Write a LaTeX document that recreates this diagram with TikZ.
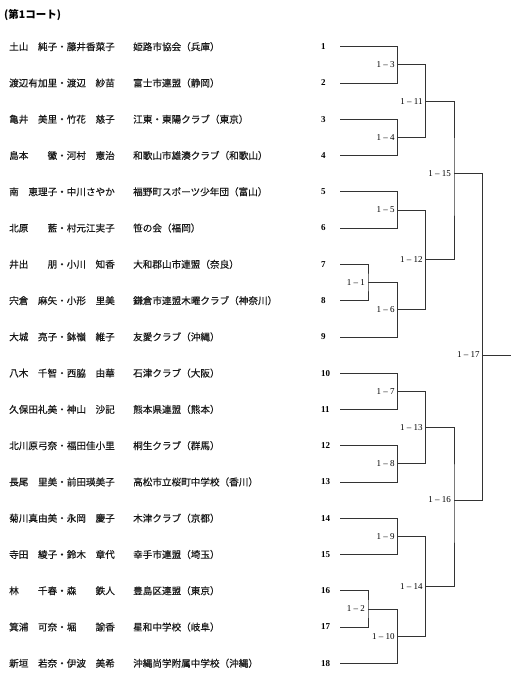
\documentclass[tikz,border=0pt]{standalone}
\usepackage{fontspec}
\setmainfont{Liberation Serif}
\newfontfamily\cjk{Noto Sans CJK JP}
\newfontfamily\cjkheavy[AutoFakeBold=0.5]{Noto Sans CJK JP}
\begin{document}
\begin{tikzpicture}[x=1pt,y=-1pt,
  bline/.style={line width=0.65pt, draw=black!80},
  entrytext/.style={anchor=west, inner sep=0pt, text=black!90, font=\cjkheavy\bfseries\fontsize{9.6}{11}\selectfont},
  numtext/.style={anchor=west, inner sep=0pt, font=\bfseries\fontsize{9}{10}\selectfont},
  labtext/.style={anchor=east, inner sep=0pt, font=\fontsize{9}{10}\selectfont},
]
\useasboundingbox (0,0) rectangle (517,675);
\node[anchor=west, inner sep=0pt, font=\cjk\bfseries\fontsize{10.5}{12}\selectfont] (title) at (4,15) {(第1コート)};
\foreach \i/\p/\t in {
 1/土山　純子・藤井香菜子/姫路市協会（兵庫）,
 2/渡辺有加里・渡辺　紗苗/富士市連盟（静岡）,
 3/亀井　美里・竹花　慈子/江東・東陽クラブ（東京）,
 4/島本　　徽・河村　憲治/和歌山市雄湊クラブ（和歌山）,
 5/南　恵理子・中川さやか/福野町スポーツ少年団（富山）,
 6/北原　　藍・村元江実子/笹の会（福岡）,
 7/井出　　朋・小川　知香/大和郡山市連盟（奈良）,
 8/宍倉　麻矢・小形　里美/鎌倉市連盟木曜クラブ（神奈川）,
 9/大城　亮子・鉢嶺　維子/友愛クラブ（沖縄）,
 10/八木　千智・西脇　由華/石津クラブ（大阪）,
 11/久保田礼美・神山　沙記/熊本県連盟（熊本）,
 12/北川原弓奈・福田佳小里/桐生クラブ（群馬）,
 13/長尾　里美・前田瑛美子/高松市立桜町中学校（香川）,
 14/菊川真由美・永岡　慶子/木津クラブ（京都）,
 15/寺田　綾子・鈴木　章代/幸手市連盟（埼玉）,
 16/林　　千春・森　　鉄人/豊島区連盟（東京）,
 17/箕浦　可奈・堀　　諭香/星和中学校（岐阜）,
 18/新垣　若奈・伊波　美希/沖縄尚学附属中学校（沖縄）}{
  \pgfmathsetmacro\yy{46.7+(\i-1)*36.27}
  \node[entrytext] (p\i) at (9,\yy) {\p};
  \node[entrytext] (t\i) at (133,\yy) {\t};
  \node[numtext] (n\i) at (321,\yy) {\i};
  \coordinate (e\i) at (340,\yy);
}
% match points
\coordinate (m3) at (397.7,64.8);
\coordinate (m4) at (397.7,137.4);
\coordinate (m11) at (425.7,101.1);
\coordinate (m5) at (397.7,209.9);
\coordinate (m1) at (368,282.45);
\coordinate (m6) at (397.7,309.7);
\coordinate (m12) at (425.7,259.8);
\coordinate (m15) at (454,173.3);
\coordinate (m7) at (397.7,391.25);
\coordinate (m8) at (397.7,463.8);
\coordinate (m13) at (425.7,427.5);
\coordinate (m9) at (397.7,536.35);
\coordinate (m2) at (368,608.85);
\coordinate (m10) at (397.7,636.1);
\coordinate (m14) at (425.7,586.2);
\coordinate (m16) at (454,500);
\coordinate (m17) at (482.7,355);
\coordinate (out) at (510.7,355);
% brackets
\draw[bline] (e1) -| (m3) |- (e2);
\draw[bline] (e3) -| (m4) |- (e4);
\draw[bline] (m3) -| (m11) |- (m4);
\draw[bline] (e5) -| (m5) |- (e6);
\draw[bline] (e7) -| (m1) |- (e8);
\draw[bline] (m1) -| (m6) |- (e9);
\draw[bline] (m5) -| (m12) |- (m6);
\draw[bline] (m11) -| (m15) |- (m12);
\draw[bline] (e10) -| (m7) |- (e11);
\draw[bline] (e12) -| (m8) |- (e13);
\draw[bline] (m7) -| (m13) |- (m8);
\draw[bline] (e14) -| (m9) |- (e15);
\draw[bline] (e16) -| (m2) |- (e17);
\draw[bline] (m2) -| (m10) |- (e18);
\draw[bline] (m9) -| (m14) |- (m10);
\draw[bline] (m13) -| (m16) |- (m14);
\draw[bline] (m15) -| (m17) |- (m16);
\draw[bline] (m17) -- (out);
% labels
\foreach \m/\txt in {m1/1 – 1, m2/1 – 2, m3/1 – 3, m4/1 – 4, m5/1 – 5, m6/1 – 6, m7/1 – 7, m8/1 – 8, m9/1 – 9, m10/1 – 10, m11/1 – 11, m12/1 – 12, m13/1 – 13, m14/1 – 14, m15/1 – 15, m16/1 – 16, m17/1 – 17}{
  \node[labtext] (l\m) at ([xshift=-3pt]\m) {\txt};
}
\end{tikzpicture}
\end{document}
